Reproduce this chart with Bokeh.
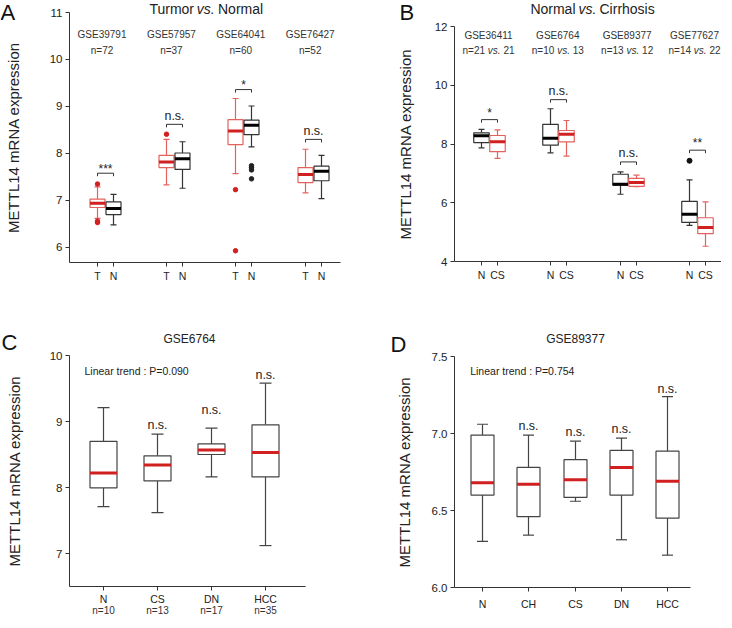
from bokeh.plotting import figure
from bokeh.models import Range1d, FixedTicker, Label, ColumnDataSource, NumeralTickFormatter
from bokeh.layouts import column, row
from bokeh.embed import file_html
from bokeh.resources import INLINE

FONT = "Liberation Sans"
RED_LINE = "#e4625c"
RED_MED = "#d02020"
DARK = "#333333"

# ---------------- Panel A data: Tumor vs Normal ----------------
A_groups = ["GSE39791", "GSE57957", "GSE64041", "GSE76427"]
A_n = ["n=72", "n=37", "n=60", "n=52"]
A_T_lw = [6.62, 7.33, 7.57, 7.16]
A_T_q1 = [6.85, 7.70, 8.19, 7.38]
A_T_med = [6.94, 7.82, 8.48, 7.55]
A_T_q3 = [7.03, 7.96, 8.72, 7.70]
A_T_uw = [7.29, 8.30, 9.17, 8.09]
A_N_lw = [6.48, 7.26, 8.14, 7.04]
A_N_q1 = [6.70, 7.66, 8.40, 7.42]
A_N_med = [6.83, 7.89, 8.60, 7.62]
A_N_q3 = [6.97, 8.01, 8.71, 7.73]
A_N_uw = [7.13, 8.25, 9.01, 7.96]
A_T_out_grp = [0, 0, 0, 1, 2, 2]
A_T_out_val = [7.35, 6.56, 6.53, 8.41, 7.23, 5.93]
A_N_out_grp = [2, 2, 2, 2]
A_N_out_val = [7.74, 7.70, 7.65, 7.46]
A_sig = ["***", "n.s.", "*", "n.s."]
A_sig_line = [7.58, 8.62, 9.36, 8.30]
A_sig_text = [7.74, 8.80, 9.52, 8.48]

# ---------------- Panel B data: Normal vs Cirrhosis ----------------
B_groups = ["GSE36411", "GSE6764", "GSE89377", "GSE77627"]
B_n_N = ["21", "10", "13", "14"]
B_n_CS = ["21", "13", "12", "22"]
B_N_lw = [7.87, 7.70, 6.29, 5.23]
B_N_q1 = [8.05, 7.96, 6.60, 5.33]
B_N_med = [8.28, 8.20, 6.63, 5.61]
B_N_q3 = [8.38, 8.67, 6.97, 6.05]
B_N_uw = [8.50, 9.20, 7.05, 6.78]
B_CS_lw = [7.51, 7.59, 6.55, 4.52]
B_CS_q1 = [7.74, 8.07, 6.56, 4.95]
B_CS_med = [8.08, 8.33, 6.69, 5.16]
B_CS_q3 = [8.29, 8.46, 6.83, 5.49]
B_CS_uw = [8.48, 8.80, 6.94, 6.03]
B_N_out_grp = [3]
B_N_out_val = [7.43]
B_sig = ["*", "n.s.", "n.s.", "**"]
B_sig_line = [8.83, 9.51, 7.39, 7.79]
B_sig_text = [9.16, 9.79, 7.71, 8.14]

# ---------------- Panel C data: GSE6764 ----------------
C_cats = ["N", "CS", "DN", "HCC"]
C_n = ["n=10", "n=13", "n=17", "n=35"]
C_lw = [7.71, 7.62, 8.16, 7.12]
C_q1 = [7.995, 8.10, 8.50, 8.16]
C_med = [8.22, 8.34, 8.57, 8.53]
C_q3 = [8.70, 8.48, 8.66, 8.95]
C_uw = [9.21, 8.81, 8.90, 9.58]
C_sig = ["", "n.s.", "n.s.", "n.s."]
C_sig_y = [0, 8.94, 9.18, 9.71]
C_trend = "Linear trend : P=0.090"

# ---------------- Panel D data: GSE89377 ----------------
D_cats = ["N", "CH", "CS", "DN", "HCC"]
D_lw = [6.30, 6.34, 6.56, 6.31, 6.21]
D_q1 = [6.60, 6.46, 6.585, 6.60, 6.45]
D_med = [6.68, 6.67, 6.70, 6.78, 6.69]
D_q3 = [6.99, 6.78, 6.83, 6.89, 6.885]
D_uw = [7.06, 6.99, 6.95, 6.97, 7.24]
D_sig = ["", "n.s.", "n.s.", "n.s.", "n.s."]
D_sig_y = [0, 7.05, 7.01, 7.03, 7.29]
D_trend = "Linear trend : P=0.754"


def make_fig(W, H, L, T, PW, PH, y0, y1, lab_standoff):
    """Figure of W x H px whose plotting area (axes) starts L px from the left,
    T px from the top, and is PW x PH px, spanning y0..y1."""
    upp = (y1 - y0) / PH
    p = figure(frame_width=W, frame_height=H, x_range=Range1d(-L, W - L),
               y_range=Range1d(y0 - (H - T - PH) * upp, y1 + T * upp),
               min_border=0, output_backend="svg", toolbar_location=None)
    p.outline_line_color = None
    p.xgrid.visible = False
    p.ygrid.visible = False
    p.background_fill_color = "white"
    p.border_fill_color = "white"
    for ax in (p.xaxis[0], p.yaxis[0]):
        ax.axis_line_color = DARK
        ax.major_tick_line_color = DARK
        ax.minor_tick_line_color = None
        ax.major_tick_out = 4
        ax.major_tick_in = 0
        ax.major_label_text_font = FONT
        ax.major_label_text_color = "#222222"
        ax.axis_label_text_font = FONT
        ax.axis_label_text_font_style = "normal"
    p.yaxis.fixed_location = 0
    p.yaxis.bounds = (y0, y1)
    p.xaxis.fixed_location = y0
    p.xaxis.bounds = (0, PW)
    p.yaxis.axis_label = "METTL14 mRNA expression"
    p.yaxis.axis_label_text_font_size = "15px"
    p.yaxis.axis_label_text_color = "#222222"
    p.yaxis.axis_label_standoff = lab_standoff
    p.yaxis.major_label_text_font_size = "11.5px"
    p.yaxis.major_label_standoff = 3
    p.xaxis.major_label_text_font_size = "10.5px"
    return p, upp


def lab(p, x, y, text, size, align="center", baseline="middle", style="normal", color="#222222"):
    p.add_layout(Label(x=x, y=y, text=text, text_font=FONT, text_font_size=f"{size}px",
                       text_align=align, text_baseline=baseline, text_font_style=style,
                       text_color=color))


def boxes(p, xs, lw, q1, med, q3, uw, width, cap, box_color, med_color, wcolor):
    h = width / 2.0
    c = cap / 2.0
    src = ColumnDataSource(dict(
        x=xs, l=[x - h for x in xs], r=[x + h for x in xs],
        cl=[x - c for x in xs], cr=[x + c for x in xs],
        lw=lw, q1=q1, med=med, q3=q3, uw=uw))
    p.segment(x0="x", y0="q3", x1="x", y1="uw", source=src, line_color=wcolor, line_width=1.2)
    p.segment(x0="x", y0="lw", x1="x", y1="q1", source=src, line_color=wcolor, line_width=1.2)
    p.segment(x0="cl", y0="uw", x1="cr", y1="uw", source=src, line_color=wcolor, line_width=1.2)
    p.segment(x0="cl", y0="lw", x1="cr", y1="lw", source=src, line_color=wcolor, line_width=1.2)
    p.quad(left="l", right="r", bottom="q1", top="q3", source=src, fill_color="white",
           line_color=box_color, line_width=1.2)
    p.segment(x0="l", y0="med", x1="r", y1="med", source=src, line_color=med_color, line_width=3)


def brackets(p, xl, xr, ys, drop, color="#333333"):
    x0, y0, x1, y1 = [], [], [], []
    for a, b, y in zip(xl, xr, ys):
        x0 += [a, a, b]
        y0 += [y, y, y]
        x1 += [b, a, b]
        y1 += [y, y - drop, y - drop]
    p.segment(x0=x0, y0=y0, x1=x1, y1=y1, line_color=color, line_width=1)


# ================= Panel A =================
yA0, yA1 = 5.68, 11.0
pA, upA = make_fig(362, 297, 69, 12, 271, 250, yA0, yA1, 25)
cA = [35.5 + 69.4 * i for i in range(len(A_groups))]
xT = [round(c - 8) for c in cA]
xN = [round(c + 8) for c in cA]
pA.yaxis.ticker = FixedTicker(ticks=[6, 7, 8, 9, 10, 11])
pA.xaxis.ticker = FixedTicker(ticks=xT + xN)
pA.xaxis.major_label_overrides = {**{x: "T" for x in xT}, **{x: "N" for x in xN}}
pA.xaxis.major_label_standoff = 3
boxes(pA, xT, A_T_lw, A_T_q1, A_T_med, A_T_q3, A_T_uw, 15, 6, RED_LINE, RED_MED, RED_LINE)
boxes(pA, xN, A_N_lw, A_N_q1, A_N_med, A_N_q3, A_N_uw, 15, 6, DARK, "black", DARK)
pA.scatter([xT[g] for g in A_T_out_grp], A_T_out_val, size=4.5, color=RED_MED)
pA.scatter([xN[g] for g in A_N_out_grp], A_N_out_val, size=4.5, color="#222222")
brackets(pA, xT, xN, A_sig_line, 3 * upA)
for i, s in enumerate(A_sig):
    yy = A_sig_text[i] - (3 * upA if "*" in s else 0)
    lab(pA, (xT[i] + xN[i]) / 2, yy, s, 12.5 if s == "n.s." else 12)
for i, g in enumerate(A_groups):
    lab(pA, cA[i] - 3, 10.53, g, 10, color="#333333")
    lab(pA, cA[i] - 3, 10.19, A_n[i], 10, color="#333333")
tyA = yA1 + 3.5 * upA
lab(pA, 124.5, tyA, "Turmor", 14, align="right")
lab(pA, 136.3, tyA, "vs.", 14, align="center", style="italic")
lab(pA, 148.5, tyA, "Normal", 14, align="left")
lab(pA, -69, yA1 + 0.5 * upA, "A", 22, align="left", color="#111111")

# ================= Panel B =================
yB0, yB1 = 4.0, 12.0
pB, upB = make_fig(359, 297, 92, 26, 267, 235, yB0, yB1, 18)
cB = [35 + 69.3 * i for i in range(len(B_groups))]
xBN = [round(c - 8) for c in cB]
xBC = [round(c + 8) for c in cB]
pB.yaxis.ticker = FixedTicker(ticks=[4, 6, 8, 10, 12])
pB.xaxis.ticker = FixedTicker(ticks=xBN + xBC)
pB.xaxis.major_label_overrides = {**{x: "N" for x in xBN}, **{x: "CS" for x in xBC}}
pB.xaxis.major_label_standoff = 3
boxes(pB, xBN, B_N_lw, B_N_q1, B_N_med, B_N_q3, B_N_uw, 15.5, 6, DARK, "black", DARK)
boxes(pB, xBC, B_CS_lw, B_CS_q1, B_CS_med, B_CS_q3, B_CS_uw, 15.5, 6, RED_LINE, RED_MED, RED_LINE)
pB.scatter([xBN[g] for g in B_N_out_grp], B_N_out_val, size=5, color="#111111")
brackets(pB, xBN, xBC, B_sig_line, 3 * upB)
for i, s in enumerate(B_sig):
    yy = B_sig_text[i] - (3 * upB if "*" in s else 0)
    lab(pB, (xBN[i] + xBC[i]) / 2, yy, s, 12.5 if s == "n.s." else 12)
for i, g in enumerate(B_groups):
    cx = min(cB[i] - 1, 267 - 27)
    lab(pB, cx, 11.70, g, 10, color="#333333")
    lab(pB, cx - 3.5, 11.19, "n=" + B_n_N[i], 10, align="right", color="#333333")
    lab(pB, cx + 5.75, 11.19, "vs.", 10, style="italic", color="#333333")
    lab(pB, cx + 15, 11.19, B_n_CS[i], 10, align="left", color="#333333")
tyB = yB1 + 17.5 * upB
lab(pB, 121.0, tyB, "Normal", 14, align="right")
lab(pB, 133.0, tyB, "vs.", 14, align="center", style="italic")
lab(pB, 145.0, tyB, "Cirrhosis", 14, align="left")
lab(pB, -55, yB1 + 14.5 * upB, "B", 22, align="left", color="#111111")

# ================= Panel C =================
yC0, yC1 = 6.5, 10.0
pC, upC = make_fig(362, 318, 69, 58, 236, 231, yC0, yC1, 24)
xC = [34 + 54 * i for i in range(len(C_cats))]
pC.yaxis.ticker = FixedTicker(ticks=[7, 8, 9, 10])
pC.xaxis.ticker = FixedTicker(ticks=xC)
pC.xaxis.major_label_overrides = {x: c for x, c in zip(xC, C_cats)}
pC.xaxis.major_label_standoff = 2
boxes(pC, xC, C_lw, C_q1, C_med, C_q3, C_uw, 27, 12, "#444444", RED_MED, "#444444")
for i, s in enumerate(C_sig):
    if s:
        lab(pC, xC[i], C_sig_y[i], s, 12.5)
for i, n in enumerate(C_n):
    lab(pC, xC[i], yC0 - 23.5 * upC, n, 10, color="#333333")
lab(pC, 15, 9.762, C_trend, 10.5, align="left")
lab(pC, 120, yC1 + 16.3 * upC, "GSE6764", 12)
lab(pC, -68, yC1 + 13.5 * upC, "C", 22, align="left", color="#111111")

# ================= Panel D =================
yD0, yD1 = 6.0, 7.5
pD, upD = make_fig(359, 318, 92, 59, 236, 231, yD0, yD1, 16)
xD = [round(28 + 46.3 * i) for i in range(len(D_cats))]
pD.yaxis.ticker = FixedTicker(ticks=[6.0, 6.5, 7.0, 7.5])
pD.yaxis.formatter = NumeralTickFormatter(format="0.0")
pD.xaxis.ticker = FixedTicker(ticks=xD)
pD.xaxis.major_label_overrides = {x: c for x, c in zip(xD, D_cats)}
pD.xaxis.major_label_standoff = 6
boxes(pD, xD, D_lw, D_q1, D_med, D_q3, D_uw, 23, 11, "#444444", RED_MED, "#444444")
for i, s in enumerate(D_sig):
    if s:
        lab(pD, xD[i], D_sig_y[i], s, 12.5)
lab(pD, 15.7, 7.404, D_trend, 10.5, align="left")
lab(pD, 121, yD1 + 17.3 * upD, "GSE89377", 12)
lab(pD, -64, yD1 + 12.5 * upD, "D", 22, align="left", color="#111111")

layout = column(row(pA, pB), row(pC, pD))
open("out.html", "w").write(file_html(layout, INLINE))
